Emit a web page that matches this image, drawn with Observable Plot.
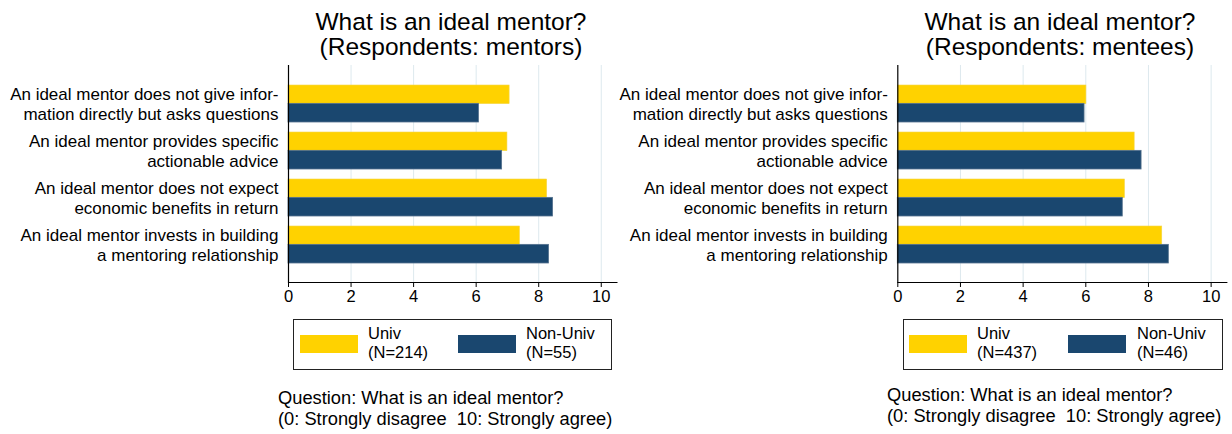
<!DOCTYPE html>
<html>
<head>
<meta charset="utf-8">
<script src="https://cdn.jsdelivr.net/npm/d3@7"></script>
<script src="https://cdn.jsdelivr.net/npm/@observablehq/plot@0.6"></script>
<style>
  html, body { margin:0; padding:0; background:#fff; overflow:hidden; }
  #root { position:relative; width:1232px; height:434px; font-family:"Liberation Sans", Arial, Helvetica, sans-serif; color:#000; }
  .abs { position:absolute; }
  .title { text-align:center; font-size:24.5px; line-height:25px; white-space:nowrap; }
  .legend { border:1px solid #222; box-sizing:border-box; }
  .sw { position:absolute; height:18px; width:58px; }
  .lt { position:absolute; font-size:16.5px; line-height:19px; white-space:nowrap; }
  .cap { font-size:18.3px; line-height:21px; white-space:pre; }
</style>
</head>
<body>
<div id="root"></div>
<script>
// ---- data ----
const categories = [
  "An ideal mentor does not give infor-\nmation directly but asks questions",
  "An ideal mentor provides specific\nactionable advice",
  "An ideal mentor does not expect\neconomic benefits in return",
  "An ideal mentor invests in building\na mentoring relationship"
];
const seriesNames = ["Univ", "Non-Univ"];
const univMentors = [7.07, 7.00, 8.27, 7.40];
const nonUnivMentors = [6.09, 6.83, 8.46, 8.33];
const univMentees = [6.02, 7.56, 7.25, 8.44];
const nonUnivMentees = [5.96, 7.78, 7.18, 8.65];
const nMentors = [214, 55];
const nMentees = [437, 46];
const xTicks = [0, 2, 4, 6, 8, 10];
const titles = ["What is an ideal mentor?\n(Respondents: mentors)", "What is an ideal mentor?\n(Respondents: mentees)"];
const captionText = "Question: What is an ideal mentor?\n(0: Strongly disagree  10: Strongly agree)";

const colors = ["#ffd200", "#1a476f"];
const font = "Liberation Sans, Arial, Helvetica, sans-serif";
const root = document.getElementById("root");

function panel(cfg) {
  const W = cfg.width, H = 250, mt = 5, mb = 28;
  const yOpts = {domain: categories, paddingInner: 0.22, paddingOuter: 0.415};
  const bw = Plot.scale({y: {type: "band", ...yOpts, range: [mt, H - mb]}}).bandwidth;
  const univ = categories.map((c, i) => ({category: c, value: cfg.univ[i]}));
  const non = categories.map((c, i) => ({category: c, value: cfg.non[i]}));
  const chart = Plot.plot({
    width: W, height: H,
    marginTop: mt, marginBottom: mb, marginLeft: cfg.ml, marginRight: cfg.mr,
    style: {fontFamily: font, fontSize: "16px", color: "#000", background: "transparent", overflow: "visible"},
    x: {domain: [0, 10.5]},
    y: yOpts,
    marks: [
      Plot.gridX(xTicks.slice(1), {stroke: "#dde9ee", strokeOpacity: 1, strokeWidth: 1}),
      Plot.barX(univ, {x: "value", y: "category", fill: colors[0], stroke: "#f3d64a", strokeWidth: 0.6, insetBottom: bw / 2}),
      Plot.barX(non, {x: "value", y: "category", fill: colors[1], stroke: "#55728e", strokeWidth: 0.8, insetTop: bw / 2}),
      Plot.ruleX([0], {stroke: "#000", strokeWidth: 1.2}),
      Plot.frame({anchor: "bottom", stroke: "#000", strokeWidth: 1.2}),
      Plot.axisX({ticks: xTicks, tickSize: 5, tickPadding: 3, label: null, fontSize: 16.5}),
      Plot.axisY({tickSize: 0, tickPadding: 10, label: null, fontSize: 17, lineHeight: 1.18})
    ]
  });
  chart.classList.add("abs");
  chart.style.left = cfg.left + "px";
  chart.style.top = "60px";
  root.appendChild(chart);

  // title
  const t = document.createElement("div");
  t.className = "abs title";
  t.style.left = (cfg.titleCenter - 200) + "px";
  t.style.width = "400px";
  t.style.top = "9px";
  t.innerHTML = cfg.title.split("\n").join("<br>");
  root.appendChild(t);

  // legend
  const lg = document.createElement("div");
  lg.className = "abs legend";
  lg.style.left = cfg.legend.x + "px";
  lg.style.top = "319px";
  lg.style.width = cfg.legend.w + "px";
  lg.style.height = "51px";
  root.appendChild(lg);
  seriesNames.forEach((s, i) => {
    const sw = document.createElement("div");
    sw.className = "sw";
    sw.style.left = (cfg.legend.sw[i] - cfg.legend.x - 1) + "px";
    sw.style.top = "15px";
    sw.style.background = colors[i];
    lg.appendChild(sw);
    const tx = document.createElement("div");
    tx.className = "lt";
    tx.style.left = (cfg.legend.tx[i] - cfg.legend.x - 1) + "px";
    tx.style.top = "4px";
    tx.innerHTML = s + "<br>(N=" + cfg.n[i] + ")";
    lg.appendChild(tx);
  });

  // caption
  const c = document.createElement("div");
  c.className = "abs cap";
  c.style.left = cfg.capX + "px";
  c.style.top = cfg.capY + "px";
  c.textContent = captionText;
  root.appendChild(c);
}

panel({left: 0, width: 622, ml: 288, mr: 622 - 616.4, univ: univMentors, non: nonUnivMentors,
  title: titles[0], titleCenter: 451, n: nMentors,
  legend: {x: 293, w: 319, sw: [300, 458], tx: [368, 526]}, capX: 278, capY: 387});
panel({left: 609, width: 622, ml: 288.3, mr: 622 - 617.3, univ: univMentees, non: nonUnivMentees,
  title: titles[1], titleCenter: 1060, n: nMentees,
  legend: {x: 903, w: 320, sw: [909, 1068], tx: [977, 1137]}, capX: 887, capY: 384});
</script>
</body>
</html>
